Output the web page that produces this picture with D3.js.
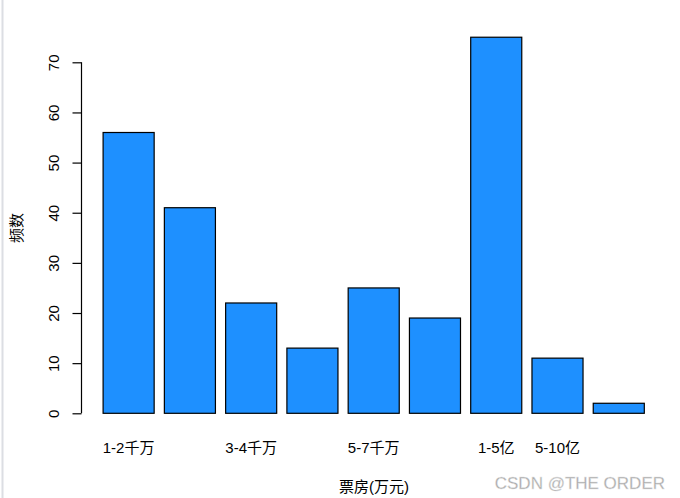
<!DOCTYPE html>
<html>
<head>
<meta charset="utf-8">
<script src="https://cdn.jsdelivr.net/npm/d3@7"></script>
<style>
  html, body { margin: 0; padding: 0; background: #fff; }
  svg { display: block; }
  text { font-family: "Liberation Sans", Arial, "Noto Sans CJK SC", sans-serif; }
</style>
</head>
<body>
<div id="chart"></div>
<script>
// ---- data ----
const categories = ["1-2千万", "2-3千万", "3-4千万", "4-5千万", "5-7千万", "7千万-1亿", "1-5亿", "5-10亿", "10亿以上"];
const counts = [56, 41, 22, 13, 25, 19, 75, 11, 2];
// labels that R actually drew (others were dropped for overlap)
const tickLabels = ["1-2千万", "", "3-4千万", "", "5-7千万", "", "1-5亿", "5-10亿", ""];
const yTicks = [0, 10, 20, 30, 40, 50, 60, 70];
const xTitle = "票房(万元)";
const yTitle = "频数";
const watermark = "CSDN @THE ORDER";

const W = 680, H = 498;
const svg = d3.select("#chart").append("svg").attr("width", W).attr("height", H);

// left border line
svg.append("line").attr("x1", 2.5).attr("x2", 2.5).attr("y1", 0).attr("y2", H)
  .attr("stroke", "#dcdee3").attr("stroke-width", 2);

const x = d3.scaleBand().domain(categories).range([103.1, 644.3])
  .paddingInner(1 / 6).paddingOuter(0);
const y = d3.scaleLinear().domain([0, 70]).range([413.3, 62.3]);

// bars
svg.append("g").selectAll("rect").data(categories).join("rect")
  .attr("x", d => x(d))
  .attr("y", (d, i) => y(counts[i]))
  .attr("width", x.bandwidth())
  .attr("height", (d, i) => y(0) - y(counts[i]))
  .attr("fill", "#1e90ff")
  .attr("stroke", "#000")
  .attr("stroke-width", 1.2);

// y axis
const yAxis = d3.axisLeft(y).tickValues(yTicks).tickSize(9).tickPadding(0).tickFormat(d3.format("d"));
const gy = svg.append("g").attr("transform", "translate(81.5,0)").call(yAxis);
gy.select(".domain").attr("d", `M0,${y(0)}V${y(70)}`).attr("stroke", "#000").attr("stroke-width", 1.2);
gy.selectAll(".tick line").attr("stroke", "#000").attr("stroke-width", 1.2);
gy.selectAll(".tick text")
  .attr("x", 0).attr("dy", null)
  .attr("transform", "translate(-28.5,0) rotate(-90)")
  .attr("text-anchor", "middle")
  .attr("dominant-baseline", "central")
  .attr("font-size", 15)
  .attr("fill", "#000");

// x labels
const gx = svg.append("g");
gx.selectAll("text").data(categories).join("text")
  .attr("x", d => x(d) + x.bandwidth() / 2)
  .attr("y", 447)
  .attr("text-anchor", "middle")
  .attr("dominant-baseline", "central")
  .attr("font-size", 15)
  .attr("fill", "#000")
  .text((d, i) => tickLabels[i]);

// axis titles
svg.append("text").attr("x", 374).attr("y", 486)
  .attr("text-anchor", "middle").attr("dominant-baseline", "central")
  .attr("font-size", 15).attr("fill", "#000").text(xTitle);
svg.append("text").attr("transform", "translate(16,228) rotate(-90)")
  .attr("text-anchor", "middle").attr("dominant-baseline", "central")
  .attr("font-size", 15).attr("fill", "#000").text(yTitle);

// watermark
svg.append("text").attr("x", 665).attr("y", 483)
  .attr("text-anchor", "end").attr("dominant-baseline", "central")
  .attr("font-size", 17).attr("fill", "#a6a6a6")
  .attr("stroke", "#e6e6e6").attr("stroke-width", 0.4)
  .text(watermark);
</script>
</body>
</html>
